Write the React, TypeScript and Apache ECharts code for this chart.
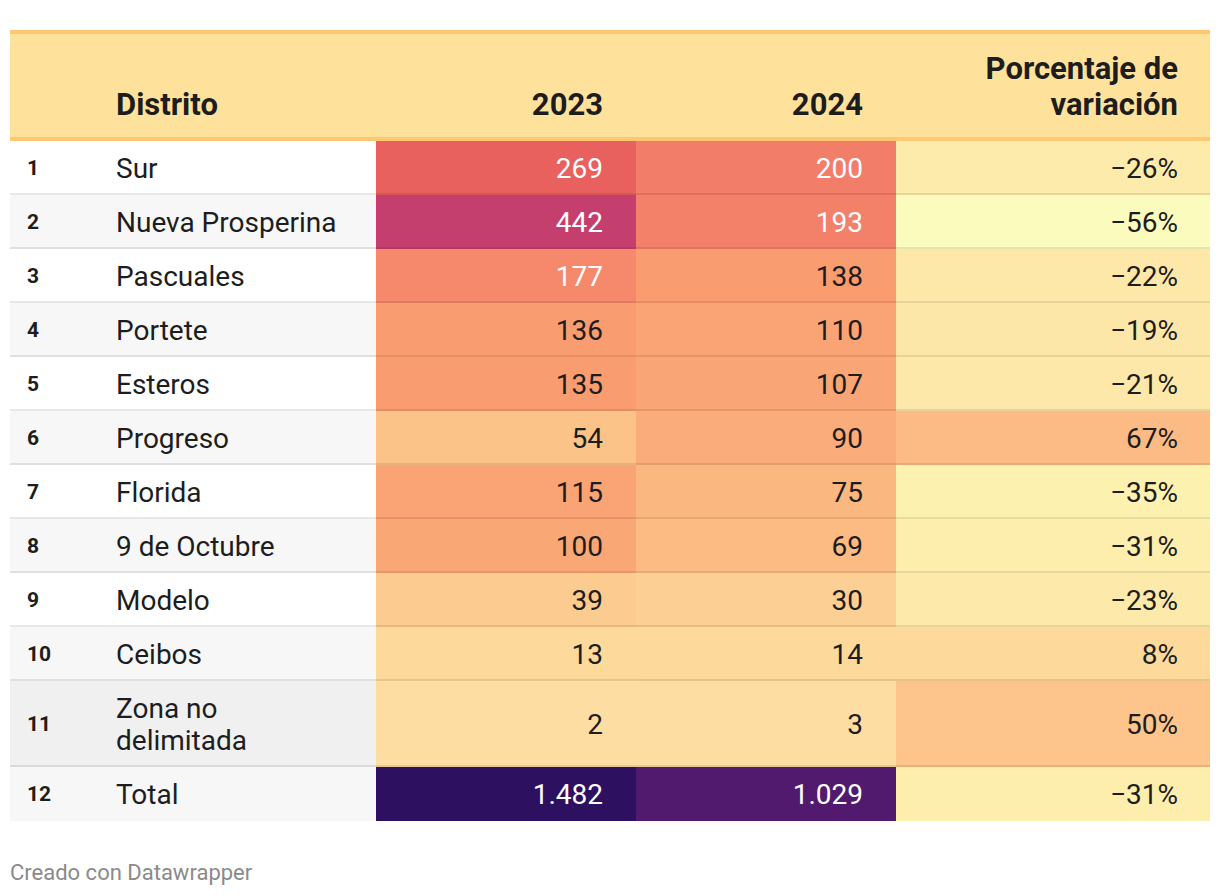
import React, { useEffect, useRef } from "react";
import * as echarts from "echarts";

// ---------- data ----------
const rowNumbers = [1, 2, 3, 4, 5, 6, 7, 8, 9, 10, 11, 12];
const districts = [
  "Sur",
  "Nueva Prosperina",
  "Pascuales",
  "Portete",
  "Esteros",
  "Progreso",
  "Florida",
  "9 de Octubre",
  "Modelo",
  "Ceibos",
  "Zona no delimitada",
  "Total",
];
const values2023 = [269, 442, 177, 136, 135, 54, 115, 100, 39, 13, 2, 1482];
const values2024 = [200, 193, 138, 110, 107, 90, 75, 69, 30, 14, 3, 1029];
const pctChange = [-26, -56, -22, -19, -21, 67, -35, -31, -23, 8, 50, -31];
const headerLabels = ["Distrito", "2023", "2024", "Porcentaje de variación"];
const footerText = "Creado con Datawrapper";

// ---------- colour scales (value -> colour) ----------
const countColorStops: [number, string][] = [
  [0, "#fddea2"],
  [15, "#fdd99b"],
  [40, "#fcca8f"],
  [55, "#fcc389"],
  [75, "#fbb780"],
  [100, "#faa776"],
  [140, "#f99c70"],
  [180, "#f5866a"],
  [200, "#f27d68"],
  [270, "#e8615f"],
  [440, "#c43f6e"],
  [1030, "#521a6e"],
  [1490, "#2c1160"],
];
const pctColorStops: [number, string][] = [
  [-56, "#fcfbbe"],
  [-35, "#fdf1b0"],
  [-20, "#fde7a8"],
  [8, "#fdd99c"],
  [50, "#fdc48c"],
  [67, "#fcbb84"],
];

// ---------- layout ----------
const W = 1220;
const H = 896;
const T_LEFT = 10;
const T_WIDTH = 1200;
const HEAD_TOP = 30;
const HEAD_BOTTOM = 141;
const ROW_H = 54;
const LINE_H = 32;
const COL_INDEX_X = 17;
const COL_NAME_X = 106;
const COL_2023: [number, number] = [366, 626];
const COL_2024: [number, number] = [626, 886];
const COL_PCT: [number, number] = [886, 1200];
const CELL_PAD = 33;
const NAME_MAX_W = 226;
const FONT = "Roboto, 'Noto Sans', sans-serif";
const TEXT_DARK = "#1d1d1d";

function hexToRgb(h: string): number[] {
  const s = h.replace("#", "");
  return [0, 2, 4].map((i) => parseInt(s.slice(i, i + 2), 16));
}
function rgbToHex(c: number[]): string {
  return "#" + c.map((v) => Math.round(v).toString(16).padStart(2, "0")).join("");
}
function colorAt(stops: [number, string][], v: number): string {
  if (v <= stops[0][0]) return stops[0][1];
  for (let i = 1; i < stops.length; i++) {
    if (v <= stops[i][0]) {
      const [v0, c0] = stops[i - 1];
      const [v1, c1] = stops[i];
      const t = (v - v0) / (v1 - v0);
      const a = hexToRgb(c0);
      const b = hexToRgb(c1);
      return rgbToHex(a.map((x, k) => x + (b[k] - x) * t));
    }
  }
  return stops[stops.length - 1][1];
}
function sampleScale(stops: [number, string][], n: number): string[] {
  const min = stops[0][0];
  const max = stops[stops.length - 1][0];
  const out: string[] = [];
  for (let k = 0; k < n; k++) out.push(colorAt(stops, min + ((max - min) * k) / (n - 1)));
  return out;
}
function parseColor(c: string): number[] {
  if (c.startsWith("#")) return hexToRgb(c.length === 4 ? "#" + c[1] + c[1] + c[2] + c[2] + c[3] + c[3] : c);
  const m = c.match(/[\d.]+/g) || ["0", "0", "0"];
  return m.slice(0, 3).map(Number);
}
function textColorFor(bg: string): string {
  const lin = parseColor(bg).map((v) => {
    const s = v / 255;
    return s <= 0.03928 ? s / 12.92 : Math.pow((s + 0.055) / 1.055, 2.4);
  });
  const L = 0.2126 * lin[0] + 0.7152 * lin[1] + 0.0722 * lin[2];
  return L < 0.41 ? "#ffffff" : TEXT_DARK;
}
function fmtCount(v: number): string {
  return String(v).replace(/\B(?=(\d{3})+(?!\d))/g, ".");
}
function fmtPct(v: number): string {
  return (v < 0 ? "\u2212" + Math.abs(v) : String(v)) + "%";
}
function wrapWords(text: string, font: string, maxW: number): string[] {
  const ctx = document.createElement("canvas").getContext("2d");
  if (!ctx) return [text];
  ctx.font = font;
  const words = text.split(" ");
  const lines: string[] = [];
  let cur = "";
  for (const w of words) {
    const test = cur ? cur + " " + w : w;
    if (cur && ctx.measureText(test).width > maxW) {
      lines.push(cur);
      cur = w;
    } else cur = test;
  }
  if (cur) lines.push(cur);
  return lines;
}

export default function App() {
  const ref = useRef<HTMLDivElement>(null);

  useEffect(() => {
    if (!ref.current) return;
    const chart = echarts.init(ref.current, undefined, { renderer: "svg" });

    const nameLines = districts.map((d) => wrapWords(d, "400 28px Roboto", NAME_MAX_W));
    const rowHeights = nameLines.map((l) => ROW_H + (l.length - 1) * LINE_H);
    const rowTops: number[] = [];
    let acc = 0;
    rowHeights.forEach((h) => {
      rowTops.push(acc);
      acc += h;
    });
    const bodyH = acc;
    const HIGHLIGHT = districts.indexOf("Zona no delimitada");

    const cellRect = (api: any, x0: number, x1: number, i: number) => {
      const p0 = api.coord([x0, rowTops[i]]);
      const p1 = api.coord([x1, rowTops[i] + rowHeights[i]]);
      return { x: p0[0], y: p0[1], width: p1[0] - p0[0], height: p1[1] - p0[1] };
    };

    const countData: number[][] = [];
    values2023.forEach((v, i) => countData.push([0, i, v]));
    values2024.forEach((v, i) => countData.push([1, i, v]));

    const pctHeader = wrapWords(headerLabels[3], "700 31px Roboto", 230).join("\n");

    const headerText = (text: string, x: number, align: string) => ({
      type: "text",
      x,
      y: 122,
      style: {
        text,
        fill: TEXT_DARK,
        fontFamily: FONT,
        fontSize: 31,
        fontWeight: 700,
        lineHeight: 36,
        align,
        textAlign: align,
        verticalAlign: "bottom",
        textVerticalAlign: "bottom",
      },
    });

    chart.setOption({
      animation: false,
      grid: { left: T_LEFT, top: HEAD_BOTTOM, width: T_WIDTH, height: bodyH },
      xAxis: { type: "value", min: 0, max: T_WIDTH, show: false },
      yAxis: { type: "value", min: 0, max: bodyH, inverse: true, show: false },
      visualMap: [
        {
          type: "continuous",
          show: false,
          seriesIndex: 1,
          dimension: 2,
          min: countColorStops[0][0],
          max: countColorStops[countColorStops.length - 1][0],
          inRange: { color: sampleScale(countColorStops, 299) },
        },
        {
          type: "continuous",
          show: false,
          seriesIndex: 2,
          dimension: 1,
          min: pctColorStops[0][0],
          max: pctColorStops[pctColorStops.length - 1][0],
          inRange: { color: sampleScale(pctColorStops, 124) },
        },
      ],
      series: [
        {
          type: "custom",
          name: "rows",
          z: 1,
          silent: true,
          data: rowNumbers.map((n, i) => [i, n]),
          renderItem: (params: any, api: any) => {
            const i = api.value(0);
            const r = cellRect(api, 0, COL_2023[0], i);
            const bg = i === HIGHLIGHT ? "#f0f0f0" : i % 2 === 1 ? "#f7f7f7" : "#ffffff";
            const cy = r.y + r.height / 2;
            return {
              type: "group",
              children: [
                { type: "rect", shape: r, style: { fill: bg } },
                {
                  type: "text",
                  style: {
                    text: String(api.value(1)),
                    x: api.coord([COL_INDEX_X, 0])[0],
                    y: cy,
                    fill: TEXT_DARK,
                    fontFamily: FONT,
                    fontSize: 21,
                    fontWeight: 700,
                    align: "left",
                    verticalAlign: "middle",
                  },
                },
                {
                  type: "text",
                  style: {
                    text: nameLines[i].join("\n"),
                    x: api.coord([COL_NAME_X, 0])[0],
                    y: cy,
                    fill: TEXT_DARK,
                    fontFamily: FONT,
                    fontSize: 28,
                    lineHeight: LINE_H,
                    align: "left",
                    verticalAlign: "middle",
                  },
                },
              ],
            };
          },
        },
        {
          type: "custom",
          name: "counts",
          z: 2,
          silent: true,
          data: countData,
          renderItem: (params: any, api: any) => {
            const c = api.value(0);
            const i = api.value(1);
            const v = api.value(2);
            const col = c === 0 ? COL_2023 : COL_2024;
            const r = cellRect(api, col[0], col[1], i);
            const fill = api.visual("color");
            return {
              type: "group",
              children: [
                { type: "rect", shape: r, style: { fill } },
                {
                  type: "text",
                  style: {
                    text: fmtCount(v),
                    x: r.x + r.width - CELL_PAD,
                    y: r.y + r.height / 2,
                    fill: textColorFor(fill),
                    fontFamily: FONT,
                    fontSize: 28,
                    align: "right",
                    verticalAlign: "middle",
                  },
                },
              ],
            };
          },
        },
        {
          type: "custom",
          name: "pct",
          z: 2,
          silent: true,
          data: pctChange.map((v, i) => [i, v]),
          renderItem: (params: any, api: any) => {
            const i = api.value(0);
            const v = api.value(1);
            const r = cellRect(api, COL_PCT[0], COL_PCT[1], i);
            const fill = api.visual("color");
            return {
              type: "group",
              children: [
                { type: "rect", shape: r, style: { fill } },
                {
                  type: "text",
                  style: {
                    text: fmtPct(v),
                    x: r.x + r.width - 32,
                    y: r.y + r.height / 2,
                    fill: textColorFor(fill),
                    fontFamily: FONT,
                    fontSize: 28,
                    align: "right",
                    verticalAlign: "middle",
                  },
                },
              ],
            };
          },
        },
        {
          type: "custom",
          name: "rules",
          z: 3,
          silent: true,
          data: rowNumbers.slice(0, -1).map((n, i) => [i]),
          renderItem: (params: any, api: any) => {
            const i = api.value(0);
            const yb = rowTops[i] + rowHeights[i];
            const p0 = api.coord([0, yb]);
            const p1 = api.coord([T_WIDTH, yb]);
            return {
              type: "rect",
              shape: { x: p0[0], y: p0[1] - 2, width: p1[0] - p0[0], height: 2 },
              style: { fill: "rgba(0,0,0,0.09)" },
            };
          },
        },
      ],
      graphic: [
        {
          type: "rect",
          shape: { x: T_LEFT, y: HEAD_TOP, width: T_WIDTH, height: HEAD_BOTTOM - HEAD_TOP },
          style: { fill: "#fee29c" },
        },
        {
          type: "rect",
          shape: { x: T_LEFT, y: HEAD_TOP, width: T_WIDTH, height: 4 },
          style: { fill: "#fec872" },
        },
        {
          type: "rect",
          shape: { x: T_LEFT, y: HEAD_BOTTOM - 4, width: T_WIDTH, height: 4 },
          style: { fill: "#fec872" },
        },
        headerText(headerLabels[0], T_LEFT + COL_NAME_X, "left"),
        headerText(headerLabels[1], T_LEFT + COL_2023[1] - CELL_PAD, "right"),
        headerText(headerLabels[2], T_LEFT + COL_2024[1] - CELL_PAD, "right"),
        headerText(pctHeader, T_LEFT + COL_PCT[1] - 32, "right"),
        {
          type: "text",
          x: T_LEFT,
          y: 872,
          style: {
            text: footerText,
            fill: "#8a8a8a",
            fontFamily: FONT,
            fontSize: 22,
            align: "left",
            textAlign: "left",
            verticalAlign: "middle",
            textVerticalAlign: "middle",
          },
        },
      ],
    });

    return () => chart.dispose();
  }, []);

  return (
    <div
      ref={ref}
      style={{ position: "absolute", left: 0, top: 0, width: W, height: H, background: "#ffffff" }}
    />
  );
}
